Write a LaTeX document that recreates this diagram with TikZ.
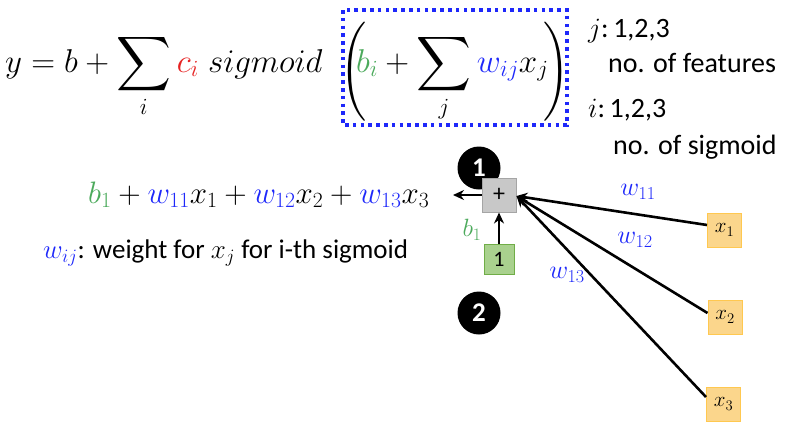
\RequirePackage{fix-cm}
\documentclass[tikz,border=0pt]{standalone}
\usepackage{fontspec}
\setmainfont{Carlito}
\DeclareFontShape{OMX}{cmex}{m}{n}{<->cmex10}{}
\usetikzlibrary{arrows.meta}
\definecolor{mgreen}{RGB}{76,170,92}
\definecolor{mblue}{RGB}{30,40,250}
\definecolor{mred}{RGB}{230,35,35}
\definecolor{boxgray}{RGB}{200,200,200}
\definecolor{boxgrayline}{RGB}{165,165,165}
\definecolor{onefill}{RGB}{169,209,142}
\definecolor{oneline}{RGB}{112,173,71}
\definecolor{xfill}{RGB}{251,214,140}
\definecolor{xline}{RGB}{255,200,80}
\newcommand{\BigSum}{\mathop{\vcenter{\hbox{\fontsize{38}{44}\selectfont$\displaystyle\sum$}}}\limits}
\newcommand{\ParStrut}{\vrule height 59pt depth 43pt width 0pt}
\begin{document}
\begin{tikzpicture}[x=1pt,y=-1pt,
  txt/.style={anchor=base west,inner sep=0pt},
  bigmath/.style={txt,font=\fontsize{33}{40}\selectfont},
  sidetxt/.style={txt,font=\fontsize{28}{32}\selectfont},
  numcirc/.style={circle,fill=black,minimum size=43pt,inner sep=0pt,text=white,font=\fontsize{27}{30}\selectfont\bfseries},
  plusbox/.style={draw=boxgrayline,fill=boxgray,line width=1pt,minimum size=34pt,inner sep=0pt,font=\fontsize{24}{28}\selectfont},
  onebox/.style={draw=oneline,fill=onefill,line width=1pt,minimum size=30pt,inner sep=0pt,font=\fontsize{22}{26}\selectfont},
  xbox/.style={draw=xline,fill=xfill,line width=1pt,minimum size=34pt,inner sep=0pt,font=\fontsize{21}{24}\selectfont},
  conn/.style={line width=2.6pt,-{Stealth[length=11pt,width=10pt]}},
  wlabel/.style={text=mblue,font=\fontsize{26}{30}\selectfont,inner sep=0pt},
  dotbox/.style={draw=mblue,line width=3.6pt,dash pattern=on 3.6pt off 4.2pt}
]
\useasboundingbox (0,0) rectangle (786,437);

% main formula
\node[bigmath] (lhs) at (5,72) {$\displaystyle y = b + \BigSum_i {\color{mred}c_i}\; sigmoid$};
\node[bigmath] (lpar) at (340,80) {$\left(\ParStrut\right.$};
\node[bigmath] (inner) at (356,72) {$\displaystyle {\color{mgreen}b_i} + \BigSum_j {\color{mblue}w_{ij}} x_j$};
\node[bigmath,anchor=base east] (rpar) at (570,80) {$\left.\ParStrut\right)$};
\draw[dotbox] (343,10) rectangle (567,125);

% side notes
\node[sidetxt] (jtxt) at (588,37) {$j$:\,1,2,3};
\node[sidetxt] (jnote) at (608,72) {no. of features};
\node[sidetxt] (itxt) at (588,117) {$i$:\,1,2,3};
\node[sidetxt] (inote) at (613,154) {no. of sigmoid};

% expanded formula and description
\node[txt,font=\fontsize{31}{36}\selectfont] (expand) at (88,203)
  {${\color{mgreen}b_1} + {\color{mblue}w_{11}}x_1 + {\color{mblue}w_{12}}x_2 + {\color{mblue}w_{13}}x_3$};
\node[txt,font=\fontsize{27}{30}\selectfont] (desc) at (43,258)
  {${\color{mblue}w_{ij}}$: weight for $x_j$ for i-th sigmoid};

% network
\node[numcirc] (c1) at (479,168) {1};
\node[numcirc] (c2) at (479,313) {2};
\node[plusbox] (plus) at (499,195) {+};
\node[onebox] (one) at (499,259) {1};
\node[xbox] (x1) at (724.5,230) {$x_1$};
\node[xbox] (x2) at (725,317) {$x_2$};
\node[xbox] (x3) at (723.5,404) {$x_3$};
\coordinate (out) at (453,195);

\draw[conn] (plus.west) -- (out);
\draw[conn] (one.north) -- (plus.south);
\draw[conn] ([yshift=5pt]x1.west) -- ([yshift=-1pt]plus.east);
\draw[conn] ([yshift=4pt]x2.west) -- ([yshift=-1pt]plus.east);
\draw[conn] ([yshift=7pt]x3.west) -- ([yshift=-1pt]plus.east);

\node[text=mgreen,font=\fontsize{25}{28}\selectfont,inner sep=0pt] (b1) at (472,230) {$b_1$};
\node[wlabel] (w11) at (638,192) {$w_{11}$};
\node[wlabel] (w12) at (635,240) {$w_{12}$};
\node[wlabel] (w13) at (567,275) {$w_{13}$};
\end{tikzpicture}
\end{document}
